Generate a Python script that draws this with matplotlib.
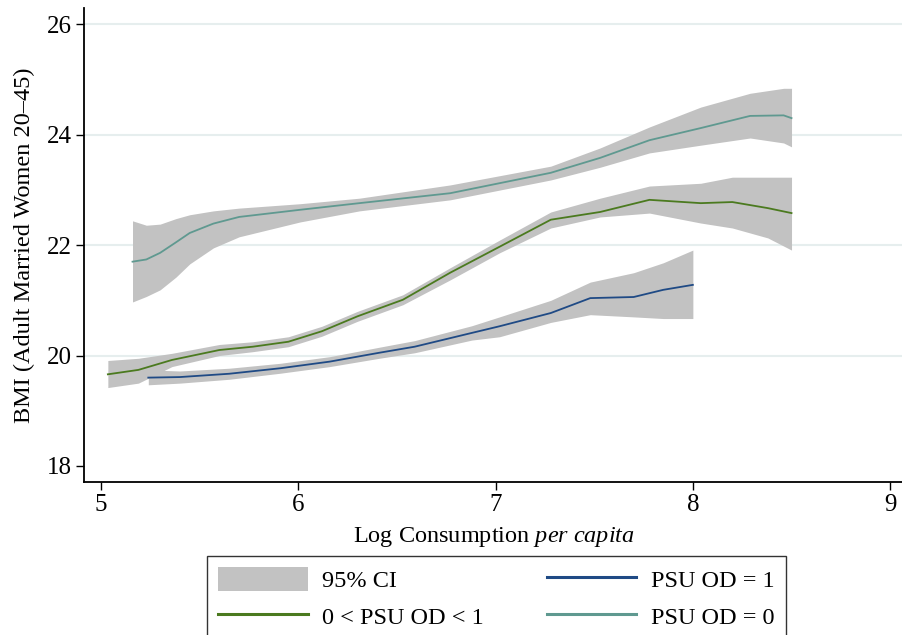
import matplotlib
matplotlib.use("Agg")
import matplotlib.pyplot as plt
from matplotlib.patches import Patch
from matplotlib.lines import Line2D

plt.rcParams['font.family'] = ['Liberation Serif', 'DejaVu Serif']
plt.rcParams['mathtext.fontset'] = 'custom'
plt.rcParams['mathtext.rm'] = 'Liberation Serif'
plt.rcParams['mathtext.it'] = 'Liberation Serif:italic'

## PSU OD = 0 (teal)
x_od0 = [5.16, 5.23, 5.30, 5.38, 5.45, 5.57, 5.70, 6.01, 6.31, 6.77, 7.28, 7.53, 7.78, 8.04, 8.29, 8.46, 8.50]
y_od0 = [21.70, 21.74, 21.86, 22.05, 22.22, 22.39, 22.51, 22.64, 22.76, 22.94, 23.31, 23.58, 23.90, 24.12, 24.34, 24.35, 24.30]
hi_od0 = [22.44, 22.36, 22.38, 22.48, 22.55, 22.62, 22.67, 22.75, 22.85, 23.09, 23.43, 23.76, 24.14, 24.50, 24.75, 24.84, 24.84]
lo_od0 = [20.97, 21.07, 21.19, 21.42, 21.66, 21.95, 22.15, 22.42, 22.62, 22.82, 23.18, 23.41, 23.67, 23.81, 23.94, 23.85, 23.78]

## 0 < PSU OD < 1 (green)
x_mid = [5.035, 5.19, 5.36, 5.60, 5.77, 5.95, 6.12, 6.30, 6.53, 6.77, 7.02, 7.28, 7.53, 7.78, 8.04, 8.20, 8.38, 8.50]
y_mid = [19.66, 19.74, 19.92, 20.10, 20.16, 20.25, 20.44, 20.71, 21.01, 21.50, 21.97, 22.46, 22.60, 22.82, 22.76, 22.78, 22.67, 22.58]
hi_mid = [19.91, 19.95, 20.04, 20.20, 20.25, 20.34, 20.53, 20.80, 21.10, 21.59, 22.09, 22.60, 22.85, 23.07, 23.12, 23.23, 23.23, 23.23]
lo_mid = [19.42, 19.50, 19.80, 20.00, 20.07, 20.16, 20.35, 20.62, 20.92, 21.37, 21.86, 22.31, 22.51, 22.58, 22.40, 22.31, 22.13, 21.91]

## PSU OD = 1 (blue)
x_od1 = [5.24, 5.40, 5.65, 5.91, 6.16, 6.41, 6.59, 6.88, 7.02, 7.28, 7.48, 7.70, 7.85, 8.00]
y_od1 = [19.60, 19.61, 19.67, 19.77, 19.89, 20.05, 20.16, 20.41, 20.53, 20.77, 21.04, 21.06, 21.19, 21.28]
hi_od1 = [19.74, 19.72, 19.77, 19.86, 19.98, 20.15, 20.27, 20.54, 20.70, 21.00, 21.33, 21.50, 21.68, 21.91]
lo_od1 = [19.47, 19.50, 19.57, 19.68, 19.80, 19.95, 20.05, 20.28, 20.34, 20.60, 20.74, 20.70, 20.67, 20.67]

x_ticks = [5, 6, 7, 8, 9]
y_ticks = [18, 20, 22, 24, 26]

ci_color = '#c2c2c2'
teal = '#5f9990'
green = '#4b7a1f'
blue = '#1f4a85'

fig = plt.figure(figsize=(9.03, 6.35), dpi=100)
ax = fig.add_axes([0.093, 0.241, 0.907, 0.746])

ax.fill_between(x_od0, lo_od0, hi_od0, color=ci_color, lw=0)
ax.fill_between(x_mid, lo_mid, hi_mid, color=ci_color, lw=0)
ax.fill_between(x_od1, lo_od1, hi_od1, color=ci_color, lw=0)
ax.plot(x_od0, y_od0, color=teal, lw=1.3)
ax.plot(x_mid, y_mid, color=green, lw=1.3)
ax.plot(x_od1, y_od1, color=blue, lw=1.3)

ax.set_xlim(4.914, 9.065)
ax.set_ylim(17.71, 26.29)
ax.set_xticks(x_ticks)
ax.set_yticks(y_ticks)
ax.tick_params(direction='out', length=6, width=1, labelsize=18, pad=3)
ax.yaxis.grid(True, color='#e6eeee', lw=1.5)
ax.set_axisbelow(True)
ax.get_ygridlines()[0].set_visible(False)
for s in ['top', 'right']:
    ax.spines[s].set_visible(False)
for s in ['left', 'bottom']:
    ax.spines[s].set_linewidth(1.3)

ax.set_xlabel(r"Log Consumption $\it{per\ capita}$", fontsize=17.5, labelpad=6)
ax.set_ylabel("BMI (Adult Married Women 20\u201345)", fontsize=17.5, labelpad=8)

handles = [Patch(facecolor=ci_color, edgecolor='none', label='95% CI'),
           Line2D([], [], color=green, lw=2.2, label='0 < PSU OD < 1'),
           Line2D([], [], color=blue, lw=2.2, label='PSU OD = 1'),
           Line2D([], [], color=teal, lw=2.2, label='PSU OD = 0')]
leg = fig.legend(handles=handles, ncol=2, loc='upper left', mode='expand',
                 bbox_to_anchor=(0.229, -0.05, 0.641, 0.174), borderaxespad=0,
                 fontsize=17.5, frameon=True, fancybox=False, edgecolor='black',
                 handlelength=3.7, handleheight=1.15, handletextpad=0.6,
                 borderpad=0.45, labelspacing=0.45)
leg.get_frame().set_linewidth(1.0)

fig.savefig("out.png", dpi=100)
